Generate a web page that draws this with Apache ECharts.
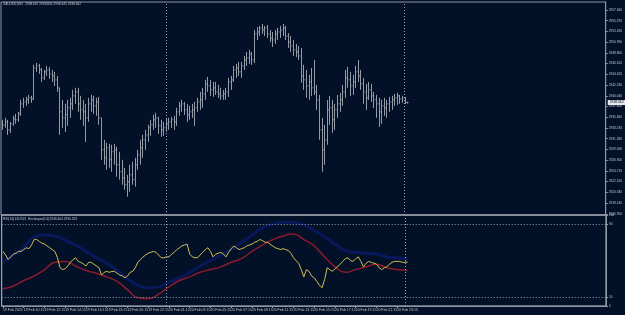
<!DOCTYPE html>
<html>
<head>
<meta charset="utf-8">
<title>XAUUSD,M15</title>
<script src="https://cdn.jsdelivr.net/npm/echarts@6/dist/echarts.min.js"></script>
<style>
  html, body { margin: 0; padding: 0; background: #021128; }
  #chart { width: 625px; height: 315px; }
</style>
</head>
<body>
<div id="chart"></div>
<script>
// XAUUSD M15 bars, 19 Feb 08:15 -> 21 Feb 01:15 (server time)
const opens = [
  2934.32, 2934.11, 2934.72, 2933.09, 2934.32, 2935.34, 2935.13, 2936.35, 2938.39, 2938.80,
  2939.21, 2939.62, 2939.41, 2945.73, 2946.14, 2945.33, 2943.70, 2944.92, 2945.33, 2944.51,
  2944.10, 2943.29, 2941.66, 2936.76, 2935.54, 2936.15, 2937.58, 2938.39, 2940.03, 2940.84,
  2938.39, 2937.17, 2936.76, 2935.54, 2938.39, 2939.21, 2937.99, 2938.80, 2935.54, 2929.01,
  2927.38, 2929.42, 2926.98, 2928.61, 2929.01, 2925.96, 2924.53, 2923.31, 2921.88, 2922.49,
  2923.92, 2922.90, 2925.96, 2927.99, 2929.42, 2931.05, 2932.07, 2933.50, 2934.11, 2935.13,
  2935.54, 2933.91, 2933.09, 2933.50, 2934.32, 2934.72, 2935.13, 2934.72, 2936.76, 2937.99,
  2938.39, 2937.17, 2936.15, 2936.76, 2937.17, 2937.58, 2938.80, 2939.21, 2940.43, 2942.47,
  2942.06, 2941.25, 2941.66, 2940.84, 2940.43, 2940.03, 2940.43, 2940.84, 2942.88, 2943.29,
  2945.33, 2945.73, 2944.92, 2946.14, 2947.37, 2947.77, 2948.59, 2947.37, 2952.67, 2953.07,
  2953.89, 2953.48, 2953.89, 2952.67, 2951.85, 2951.44, 2952.67, 2953.07, 2953.48, 2953.89,
  2952.26, 2951.04, 2950.22, 2949.41, 2949.00, 2948.18, 2944.10, 2943.29, 2942.06, 2942.88,
  2941.66, 2940.84, 2939.21, 2933.09, 2929.01, 2931.05, 2937.17, 2937.58, 2935.13, 2937.17,
  2938.39, 2939.21, 2940.84, 2943.70, 2943.29, 2942.06, 2942.88, 2944.92, 2944.10, 2942.47,
  2940.84, 2939.62, 2941.25, 2940.03, 2939.21, 2938.39, 2936.76, 2937.99, 2937.58, 2938.39,
  2938.80, 2939.21, 2939.62, 2940.03, 2939.41, 2939.62, 2938.67
]
const highs = [
  2935.13, 2935.54, 2935.13, 2934.72, 2935.95, 2936.35, 2936.76, 2939.21, 2939.62, 2939.82,
  2940.23, 2940.03, 2946.35, 2946.75, 2946.55, 2945.73, 2945.33, 2946.14, 2945.94, 2945.33,
  2944.92, 2944.10, 2941.66, 2939.21, 2938.39, 2939.21, 2939.62, 2941.25, 2941.66, 2941.66,
  2940.03, 2939.21, 2938.39, 2939.62, 2940.23, 2940.03, 2939.62, 2939.82, 2935.54, 2931.05,
  2930.44, 2930.24, 2930.03, 2930.24, 2929.63, 2928.61, 2926.98, 2925.34, 2923.92, 2925.96,
  2926.57, 2927.38, 2929.01, 2931.05, 2932.07, 2933.09, 2934.11, 2935.13, 2936.15, 2936.56,
  2935.74, 2935.13, 2934.72, 2935.54, 2935.54, 2935.74, 2935.95, 2937.58, 2938.80, 2939.21,
  2938.80, 2938.39, 2937.99, 2938.39, 2938.80, 2939.62, 2940.84, 2941.66, 2943.29, 2943.90,
  2943.29, 2942.88, 2942.88, 2942.27, 2941.66, 2941.25, 2941.66, 2943.70, 2944.10, 2946.14,
  2946.55, 2946.96, 2946.96, 2948.18, 2949.00, 2949.41, 2949.00, 2953.48, 2954.09, 2954.30,
  2954.71, 2954.30, 2954.50, 2953.48, 2953.07, 2953.48, 2953.89, 2954.30, 2954.71, 2954.30,
  2952.87, 2952.26, 2951.44, 2950.63, 2950.22, 2949.81, 2946.35, 2945.33, 2944.31, 2945.73,
  2947.37, 2942.27, 2940.23, 2935.54, 2934.11, 2939.21, 2940.03, 2939.21, 2938.39, 2940.23,
  2940.64, 2942.27, 2945.33, 2945.94, 2944.92, 2944.31, 2946.14, 2947.37, 2945.33, 2943.70,
  2942.47, 2942.88, 2942.47, 2940.84, 2940.23, 2939.62, 2939.21, 2939.62, 2939.21, 2939.82,
  2940.03, 2940.43, 2940.64, 2940.23, 2940.03, 2939.82, 2938.84
]
const lows = [
  2933.09, 2933.50, 2932.07, 2932.48, 2933.91, 2934.32, 2934.72, 2935.95, 2937.58, 2937.99,
  2938.39, 2938.60, 2939.21, 2944.92, 2944.51, 2942.88, 2943.29, 2944.10, 2943.49, 2942.88,
  2942.06, 2940.84, 2932.07, 2933.50, 2932.68, 2933.91, 2935.54, 2937.17, 2938.39, 2936.76,
  2935.13, 2933.91, 2930.64, 2934.72, 2936.76, 2936.35, 2935.95, 2934.11, 2926.98, 2925.96,
  2924.94, 2925.34, 2924.53, 2925.96, 2923.51, 2922.90, 2921.88, 2920.86, 2919.43, 2920.46,
  2921.88, 2921.47, 2924.94, 2925.96, 2927.38, 2929.01, 2930.64, 2931.87, 2933.09, 2933.50,
  2932.28, 2931.67, 2931.87, 2932.68, 2933.09, 2933.50, 2933.09, 2933.91, 2935.95, 2936.76,
  2936.15, 2934.72, 2935.13, 2935.54, 2933.91, 2936.76, 2937.17, 2937.58, 2939.21, 2940.84,
  2940.03, 2939.82, 2940.23, 2939.62, 2939.21, 2939.21, 2939.21, 2939.82, 2941.25, 2942.88,
  2943.70, 2944.10, 2943.70, 2945.33, 2946.14, 2946.55, 2946.35, 2946.75, 2951.44, 2952.26,
  2952.67, 2952.26, 2951.85, 2951.04, 2950.02, 2950.63, 2951.44, 2951.85, 2952.26, 2951.44,
  2949.81, 2949.00, 2948.18, 2947.98, 2947.37, 2942.68, 2941.25, 2939.62, 2939.21, 2940.03,
  2940.23, 2937.17, 2931.05, 2924.53, 2925.96, 2930.03, 2934.11, 2932.48, 2933.09, 2935.54,
  2936.76, 2937.99, 2939.62, 2941.66, 2940.03, 2940.23, 2941.66, 2942.88, 2941.25, 2938.39,
  2937.17, 2939.21, 2938.80, 2937.58, 2935.54, 2933.70, 2934.32, 2935.95, 2935.54, 2936.76,
  2937.17, 2937.99, 2938.19, 2938.39, 2938.60, 2938.39, 2938.45
]
const closes = [
  2934.11, 2934.72, 2933.09, 2934.32, 2935.34, 2935.13, 2936.35, 2938.39, 2938.80, 2939.21,
  2939.62, 2939.41, 2945.73, 2946.14, 2945.33, 2943.70, 2944.92, 2945.33, 2944.51, 2944.10,
  2943.29, 2941.66, 2936.76, 2935.54, 2936.15, 2937.58, 2938.39, 2940.03, 2940.84, 2938.39,
  2937.17, 2936.76, 2935.54, 2938.39, 2939.21, 2937.99, 2938.80, 2935.54, 2929.01, 2927.38,
  2929.42, 2926.98, 2928.61, 2929.01, 2925.96, 2924.53, 2923.31, 2921.88, 2922.49, 2923.92,
  2922.90, 2925.96, 2927.99, 2929.42, 2931.05, 2932.07, 2933.50, 2934.11, 2935.13, 2935.54,
  2933.91, 2933.09, 2933.50, 2934.32, 2934.72, 2935.13, 2934.72, 2936.76, 2937.99, 2938.39,
  2937.17, 2936.15, 2936.76, 2937.17, 2937.58, 2938.80, 2939.21, 2940.43, 2942.47, 2942.06,
  2941.25, 2941.66, 2940.84, 2940.43, 2940.03, 2940.43, 2940.84, 2942.88, 2943.29, 2945.33,
  2945.73, 2944.92, 2946.14, 2947.37, 2947.77, 2948.59, 2947.37, 2952.67, 2953.07, 2953.89,
  2953.48, 2953.89, 2952.67, 2951.85, 2951.44, 2952.67, 2953.07, 2953.48, 2953.89, 2952.26,
  2951.04, 2950.22, 2949.41, 2949.00, 2948.18, 2944.10, 2943.29, 2942.06, 2942.88, 2941.66,
  2940.84, 2939.21, 2933.09, 2929.01, 2931.05, 2937.17, 2937.58, 2935.13, 2937.17, 2938.39,
  2939.21, 2940.84, 2943.70, 2943.29, 2942.06, 2942.88, 2944.92, 2944.10, 2942.47, 2940.84,
  2939.62, 2941.25, 2940.03, 2939.21, 2938.39, 2936.76, 2937.99, 2937.58, 2938.39, 2938.80,
  2939.21, 2939.62, 2940.03, 2939.41, 2939.62, 2938.67, 2938.66
]

// RSI(14), one value per bar
const rsi = [
  60, 56, 51, 54, 57, 58, 60, 60, 62, 64,
  63, 67, 73, 73, 71, 69, 68, 66, 64, 62,
  60, 53, 42, 40, 41, 44, 48, 51, 53, 49,
  48, 46, 44, 48, 48, 46, 44, 42, 34, 37,
  38, 37, 38, 38, 36, 34, 33, 31, 33, 37,
  38, 42, 48, 51, 54, 56, 58, 59, 60, 59,
  56, 53, 53, 54, 54, 57, 59, 62, 64, 66,
  67, 68, 57, 54, 53, 53, 56, 59, 62, 64,
  60, 54, 57, 58, 59, 57, 54, 59, 63, 66,
  64, 62, 63, 64, 66, 67, 68, 70, 71, 73,
  72, 70, 70, 68, 66, 64, 63, 62, 63, 62,
  61, 58, 53, 50, 47, 40, 32, 40, 38, 33,
  31, 27, 23, 20, 29, 42, 40, 38, 41, 43,
  46, 49, 52, 53, 50, 49, 52, 54, 49, 43,
  47, 49, 48, 47, 46, 42, 40, 42, 43, 46,
  48, 49, 49, 49, 48, 48, 48.25
]

// smooth lines, read every 4th bar: [bar, value]
const redLine = [
  [0, 19], [4, 22], [8, 28], [12, 33], [16, 40], [20, 48], [24, 49], [28, 44], [32, 39], [36, 36],
  [40, 32], [44, 27], [48, 18], [52, 9], [56, 8], [60, 13], [64, 21], [68, 28], [72, 32], [76, 37],
  [80, 40], [84, 43], [88, 48], [92, 52], [96, 60], [100, 67], [104, 73], [108, 77], [112, 79], [116, 73],
  [120, 66], [124, 54], [128, 43], [132, 37], [136, 40], [140, 43], [144, 46], [148, 42], [152, 40], [156, 39]
]
const blueUpper = [
  [0, 49], [4, 56], [8, 64], [12, 76], [16, 78], [20, 77], [24, 72], [28, 67], [32, 60], [36, 53],
  [40, 47], [44, 39], [48, 30], [52, 23], [56, 20], [60, 21], [64, 26], [68, 31], [72, 37], [76, 44],
  [80, 50], [84, 56], [88, 62], [92, 70], [96, 78], [100, 86], [104, 90], [108, 92], [112, 92], [116, 89],
  [120, 83], [124, 76], [128, 68], [132, 61], [136, 59], [140, 58], [144, 57], [148, 54], [152, 53], [156, 52]
]

const priceLabels = [
  2957.56, 2955.37, 2953.18, 2950.99, 2948.80, 2946.61, 2944.42, 2942.23, 2940.04, 2937.85,
  2935.66, 2933.47, 2931.28, 2929.09, 2926.90, 2924.71, 2922.52, 2920.33, 2918.14, 2915.95
]
const levelLabels = [0, 10, 90, 100]
const dateLabels = [
  '19 Feb 2025', '19 Feb 10:15', '19 Feb 12:15', '19 Feb 14:15', '19 Feb 16:15',
  '19 Feb 18:15', '19 Feb 20:15', '19 Feb 22:15', '20 Feb 01:15', '20 Feb 03:15',
  '20 Feb 05:15', '20 Feb 07:15', '20 Feb 09:15', '20 Feb 11:15', '20 Feb 13:15',
  '20 Feb 15:15', '20 Feb 17:15', '20 Feb 19:15', '20 Feb 21:15', '20 Feb 23:15'
]
const dayStarts = [63, 155]
const lastPrice = 2938.662
const SLOTS = 233 // bars plus the empty shift area on the right

const slots = []
for (let i = 0; i < SLOTS; i++) slots.push(String(i))

const bars = opens.map((o, i) => [i, o, highs[i], lows[i], closes[i]])

const BG = '#021128'
const FRAME = '#8f98a5'
const TXT = '#c4c9d1'
const FONT = 'Liberation Sans'

function renderBar(params, api) {
  const i = api.value(0)
  const top = api.coord([i, api.value(2)])
  const x = Math.round(top[0]) + 0.5
  const yo = api.coord([i, api.value(1)])[1]
  const yl = api.coord([i, api.value(3)])[1]
  const yc = api.coord([i, api.value(4)])[1]
  const style = { stroke: '#959ba5', lineWidth: 1 }
  return {
    type: 'group',
    children: [
      { type: 'line', shape: { x1: x, y1: top[1], x2: x, y2: yl }, style },
      { type: 'line', shape: { x1: x - 1, y1: yo, x2: x, y2: yo }, style },
      { type: 'line', shape: { x1: x, y1: yc, x2: x + 1, y2: yc }, style }
    ]
  }
}

const sepLines = dayStarts.map(d => ({
  xAxis: d,
  lineStyle: { color: '#9aa3af', type: [1, 2], width: 1 },
  label: { show: false }
}))

const chart = echarts.init(document.getElementById('chart'))
chart.setOption({
  backgroundColor: BG,
  animation: false,
  title: [
    {
      text: 'XAUUSD,M15  2938.667 2938.835 2938.445 2938.662',
      left: 3, top: 3, padding: 0,
      textStyle: { color: TXT, fontSize: 3.2, fontWeight: 'normal', fontFamily: FONT }
    },
    {
      text: 'RSI(14) 48.2521  Envelopes(14) 2946.404 2930.203',
      left: 3, top: 218, padding: 0,
      textStyle: { color: TXT, fontSize: 3.2, fontWeight: 'normal', fontFamily: FONT }
    }
  ],
  grid: [
    { left: 1, right: 19, top: 2, height: 213, show: true, borderColor: FRAME, borderWidth: 1, backgroundColor: 'transparent' },
    { left: 1, right: 19, top: 215, height: 91, show: true, borderColor: '#c3c8cf', borderWidth: 1, backgroundColor: 'transparent' }
  ],
  xAxis: [
    {
      type: 'category', gridIndex: 0, data: slots, boundaryGap: true,
      axisLine: { show: false }, axisTick: { show: false }, axisLabel: { show: false }, splitLine: { show: false }
    },
    {
      type: 'category', gridIndex: 1, data: slots, boundaryGap: true,
      axisLine: { show: true, lineStyle: { color: FRAME } },
      axisTick: {
        show: true, length: 2, alignWithLabel: true,
        interval: i => i % 8 === 0 && i <= 152,
        lineStyle: { color: FRAME }
      },
      axisLabel: {
        show: true, interval: i => i % 8 === 0 && i <= 152,
        formatter: (v, i) => (i % 8 === 0 && i <= 152 ? dateLabels[i / 8] : ''),
        align: 'left', margin: 2, color: TXT, fontSize: 3.5, fontFamily: FONT
      },
      splitLine: { show: false }
    }
  ],
  yAxis: [
    {
      type: 'value', gridIndex: 0, position: 'right', min: 2915.7, max: 2959.19,
      axisLine: { show: true, lineStyle: { color: FRAME } }, splitLine: { show: false },
      axisTick: { show: true, customValues: priceLabels, length: 2, lineStyle: { color: FRAME } },
      axisLabel: {
        customValues: priceLabels, formatter: v => v.toFixed(3),
        color: TXT, fontSize: 3.2, margin: 3, fontFamily: FONT
      }
    },
    {
      type: 'value', gridIndex: 1, position: 'right', min: 0, max: 100,
      axisLine: { show: true, lineStyle: { color: FRAME } }, splitLine: { show: false },
      axisTick: { show: true, customValues: levelLabels, length: 2, lineStyle: { color: FRAME } },
      axisLabel: { customValues: levelLabels, color: TXT, fontSize: 3.2, margin: 3, fontFamily: FONT }
    }
  ],
  series: [
    {
      type: 'custom', name: 'XAUUSD', xAxisIndex: 0, yAxisIndex: 0,
      renderItem: renderBar, data: bars, clip: true,
      encode: { x: 0, y: [1, 2, 3, 4] },
      markLine: {
        symbol: 'none', silent: true, animation: false,
        data: sepLines.concat([{
          yAxis: lastPrice,
          lineStyle: { color: 'rgba(0,0,0,0)', width: 0 },
          label: {
            show: true, position: 'end', formatter: '2938.662', distance: 2,
            backgroundColor: '#e6eaef', color: '#0a1424', fontSize: 3.4, padding: [1, 2], fontFamily: FONT
          }
        }])
      }
    },
    {
      type: 'line', name: 'Upper', xAxisIndex: 1, yAxisIndex: 1, data: blueUpper,
      smooth: true, symbol: 'none', lineStyle: { color: '#09185a', width: 3 }
    },
    {
      type: 'line', name: 'Middle', xAxisIndex: 1, yAxisIndex: 1, data: redLine,
      smooth: true, symbol: 'none', lineStyle: { color: '#8c1a2e', width: 1.5 }
    },
    {
      type: 'line', name: 'RSI', xAxisIndex: 1, yAxisIndex: 1, data: rsi,
      symbol: 'none', lineStyle: { color: '#d2c050', width: 1 },
      markLine: {
        symbol: 'none', silent: true, animation: false,
        label: { show: false },
        data: sepLines.concat([90, 10].map(v => ({
          yAxis: v, lineStyle: { color: '#9aa3af', type: [1, 2], width: 1 }
        })))
      }
    }
  ]
})
</script>
</body>
</html>
